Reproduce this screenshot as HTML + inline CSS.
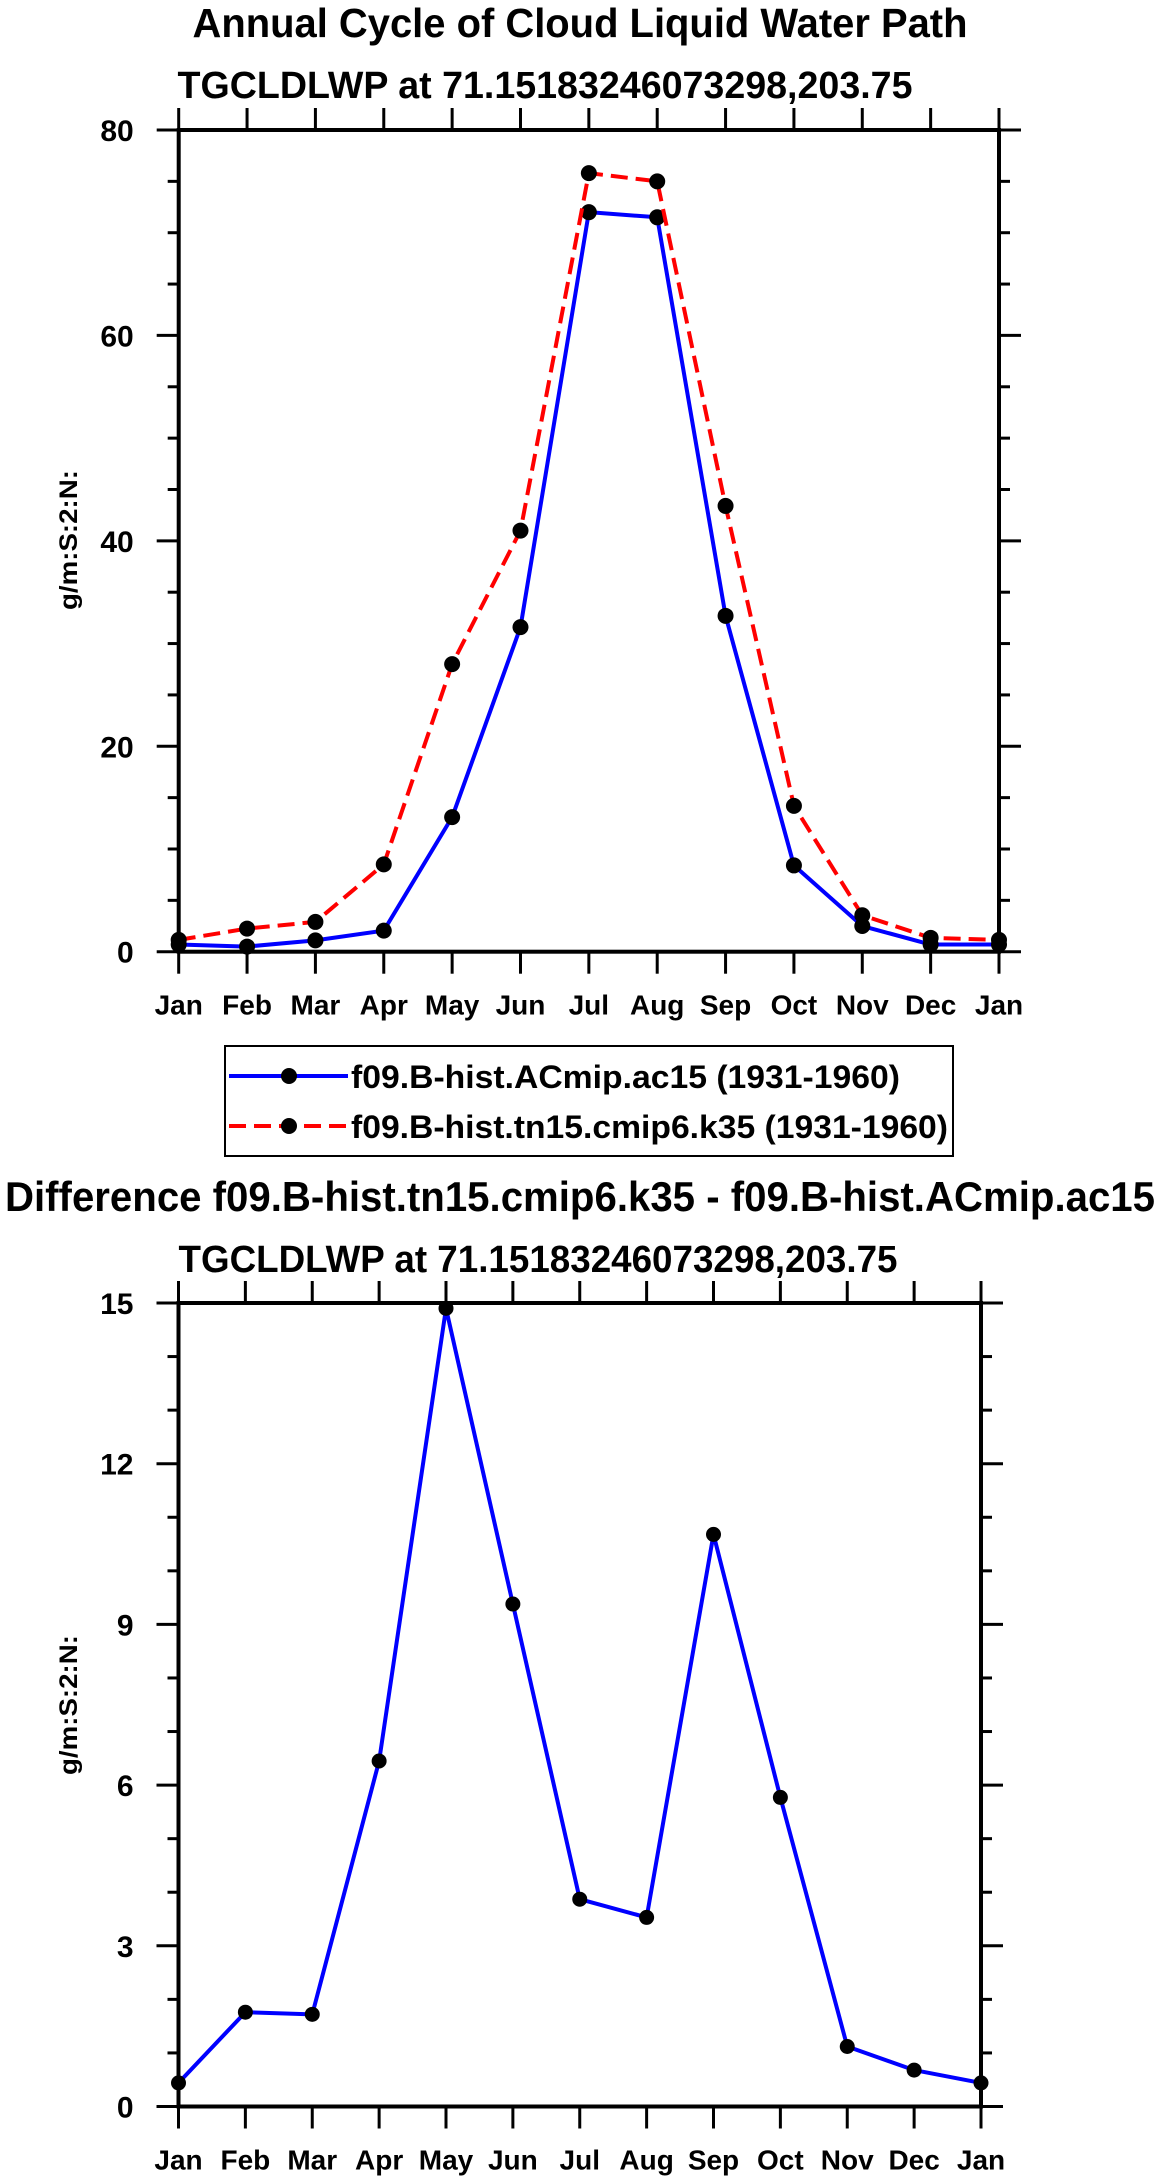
<!DOCTYPE html>
<html><head><meta charset="utf-8"><style>
html,body{margin:0;padding:0;background:#fff}
svg{display:block}
text{font-family:"Liberation Sans",Arial,sans-serif;font-weight:bold;fill:#000}
</style></head><body>
<svg id="svg" width="1161" height="2179" viewBox="0 0 1161 2179" xmlns="http://www.w3.org/2000/svg">
<text x="580" y="37" text-anchor="middle" font-size="41" textLength="775" lengthAdjust="spacingAndGlyphs">Annual Cycle of Cloud Liquid Water Path</text>
<text x="545" y="98" text-anchor="middle" font-size="38" textLength="735" lengthAdjust="spacingAndGlyphs">TGCLDLWP at 71.15183246073298,203.75</text>
<text x="0" y="0" transform="translate(77,540) rotate(-90)" text-anchor="middle" font-size="25" textLength="140" lengthAdjust="spacingAndGlyphs">g/m:S:2:N:</text>
<g id="top"></g>
<g>
<rect x="225" y="1046" width="728" height="110" fill="none" stroke="#000" stroke-width="2"/>
<g>
<line x1="229" y1="1076" x2="348" y2="1076" stroke="#0000ff" stroke-width="4"/>
<circle cx="289" cy="1076" r="8"/>
<text x="351" y="1088" font-size="32" textLength="549" lengthAdjust="spacingAndGlyphs">f09.B-hist.ACmip.ac15 (1931-1960)</text>
</g>
<g>
<line x1="229" y1="1126" x2="348" y2="1126" stroke="#ff0000" stroke-width="4" stroke-dasharray="17,8"/>
<circle cx="289" cy="1126" r="8"/>
<text x="351" y="1138" font-size="32" textLength="597" lengthAdjust="spacingAndGlyphs">f09.B-hist.tn15.cmip6.k35 (1931-1960)</text>
</g>
</g>
<text x="580" y="1211" text-anchor="middle" font-size="42" textLength="1150" lengthAdjust="spacingAndGlyphs">Difference f09.B-hist.tn15.cmip6.k35 - f09.B-hist.ACmip.ac15</text>
<text x="538" y="1272" text-anchor="middle" font-size="38" textLength="719" lengthAdjust="spacingAndGlyphs">TGCLDLWP at 71.15183246073298,203.75</text>
<text x="0" y="0" transform="translate(77,1705) rotate(-90)" text-anchor="middle" font-size="25" textLength="140" lengthAdjust="spacingAndGlyphs">g/m:S:2:N:</text>
<g id="bot"></g>
</svg>
<script>
const months = ["Jan","Feb","Mar","Apr","May","Jun","Jul","Aug","Sep","Oct","Nov","Dec","Jan"];
const ac15 = [0.7,0.5,1.1,2.05,13.1,31.6,72.0,71.5,32.7,8.4,2.5,0.7,0.7];
const k35 = [1.15,2.25,2.9,8.5,28.0,41.0,75.8,75.0,43.4,14.2,3.55,1.35,1.15];
const diff = [0.44,1.76,1.72,6.45,14.9,9.38,3.87,3.53,10.68,5.77,1.12,0.68,0.44];
const topTicks = [0,20,40,60,80];
const botTicks = [0,3,6,9,12,15];
const NS="http://www.w3.org/2000/svg";
function mk(tag,attrs,parent){const e=document.createElementNS(NS,tag);for(const k in attrs)e.setAttribute(k,attrs[k]);parent.appendChild(e);return e;}
function plot(g,cfg){
  const xs=i=>cfg.L+(cfg.R-cfg.L)*i/(months.length-1);
  const ys=v=>cfg.B-(cfg.B-cfg.T)*(v-cfg.min)/(cfg.max-cfg.min);
  const ax=mk('g',{},g);
  
  
  mk('rect',{x:cfg.L,y:cfg.T,width:cfg.R-cfg.L,height:cfg.B-cfg.T,fill:'none',stroke:'#000','stroke-width':4},ax);
  for(let v=cfg.min;v<=cfg.max+1e-9;v+=cfg.minor){
    const major=cfg.ticks.some(t=>Math.abs(t-v)<1e-9);
    const len=major?22:11, y=ys(v);
    mk('line',{x1:cfg.L-len,y1:y,x2:cfg.L,y2:y,stroke:'#000','stroke-width':3},ax);
    mk('line',{x1:cfg.R,y1:y,x2:cfg.R+len,y2:y,stroke:'#000','stroke-width':3},ax);
  }
  cfg.ticks.forEach(t=>{
    const tx=mk('text',{x:cfg.L-45,y:ys(t)+11,'text-anchor':'end','font-size':30},g);
    tx.textContent=t;
    
    
  });
  months.forEach((m,i)=>{
    const x=xs(i);
    mk('line',{x1:x,y1:cfg.B,x2:x,y2:cfg.B+22,stroke:'#000','stroke-width':3},ax);
    mk('line',{x1:x,y1:cfg.T-22,x2:x,y2:cfg.T,stroke:'#000','stroke-width':3},ax);
    const tx=mk('text',{x:x,y:cfg.B+63,'text-anchor':'middle','font-size':28},g);
    tx.textContent=m;
    
    
  });
  cfg.series.forEach(s=>{
    const sg=mk('g',{},g);
    
    
    const pts=s.data.map((v,i)=>xs(i)+','+ys(v)).join(' ');
    const attrs={points:pts,fill:'none',stroke:s.color,'stroke-width':4,'stroke-linejoin':'round'};
    if(s.dash)attrs['stroke-dasharray']=s.dash;
    mk('polyline',attrs,sg);
    s.data.forEach((v,i)=>{
      const c=mk('circle',{cx:xs(i),cy:ys(v),r:s.r,fill:'#000'},sg);
      
      
    });
  });
}
plot(document.getElementById('top'),{L:178.7,R:999,T:130,B:951.7,min:0,max:80,minor:5,ticks:topTicks,
 series:[{name:'series-ac15',data:ac15,color:'#0000ff',r:8},{name:'series-k35',data:k35,color:'#ff0000',dash:'17,8',r:8}]});
plot(document.getElementById('bot'),{L:178.5,R:981,T:1303,B:2106.5,min:0,max:15,minor:1,ticks:botTicks,
 series:[{name:'series-difference',data:diff,color:'#0000ff',r:7.5}]});
</script>
</body></html>
